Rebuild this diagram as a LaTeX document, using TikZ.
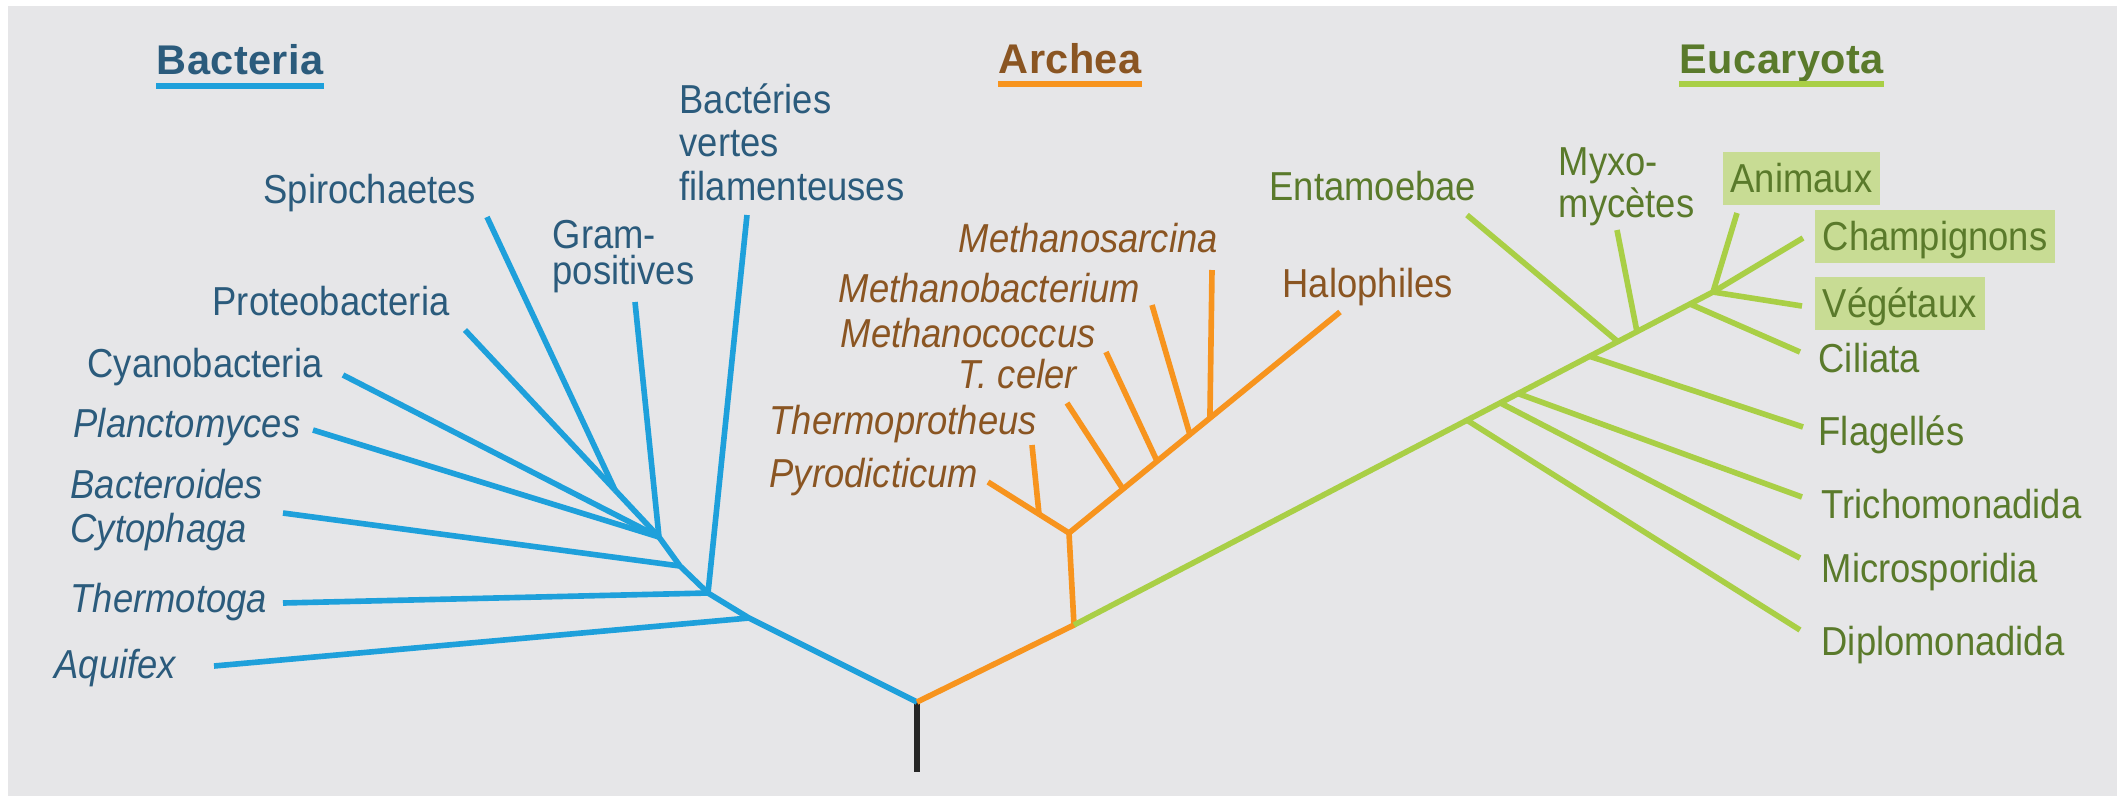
\documentclass[tikz,border=0pt]{standalone}
\usepackage{fontspec}
\setmainfont{Liberation Sans}[FakeStretch=0.9]
\newfontfamily\titlefont{Liberation Sans}[LetterSpace=1]
\usetikzlibrary{calc}
\definecolor{cbg}{HTML}{E6E6E8}
\definecolor{cblue}{HTML}{1EA0DB}
\definecolor{cbluetext}{HTML}{2B5B7C}
\definecolor{corange}{HTML}{F7941E}
\definecolor{cbrown}{HTML}{8A5522}
\definecolor{cgreen}{HTML}{A9CF46}
\definecolor{cgreentext}{HTML}{5A7A2B}
\definecolor{chl}{HTML}{C8DC94}
\definecolor{cstem}{HTML}{262626}
\tikzset{
  branch/.style={draw=#1, line width=1.6pt, line join=round},
  leaf/.style={text=#1, inner sep=0pt, align=left, font=\fontsize{11.5}{12.3}\selectfont},
  leafit/.style={leaf=#1, font=\fontsize{11.5}{12.3}\selectfont\itshape},
  tight/.style={font=\fontsize{11.5}{10.2}\selectfont},
  domain/.style={text=#1, inner sep=0pt, font=\titlefont\bfseries\fontsize{11.8}{12}\selectfont},
  hl/.style={fill=chl, inner xsep=0.08cm, inner ysep=0.05cm, text height=0.35cm, text depth=0.08cm},
}

\begin{document}
\begin{tikzpicture}[x=0.01cm, y=-0.01cm,
  underline/.style={draw=#1, line width=1.7pt}]
  \useasboundingbox (0,0) rectangle (2117,796);
  \fill[white] (0,0) rectangle (2117,796);
  \fill[cbg] (8,6) rectangle (2117,796);

  % trunk points
  \coordinate (root) at (917,702);
  \coordinate (stem) at (917,772);
  \coordinate (b1) at (749,618);
  \coordinate (b2) at (708,593);
  \coordinate (b3) at (680,566);
  \coordinate (b4) at (659,537);
  \coordinate (b5) at (615,490);
  \coordinate (a0) at (1074,625);
  \coordinate (a1) at (1069,533);
  \coordinate (e1) at (1713,292);

  % leaf tips
  \foreach \leaf/\x/\y in {aquifex/214/666, thermotoga/283/603, filam/747/215, bactero/283/513,
      plancto/313/430, cyano/343/375, gram/635/302, proteo/465/330, spiro/487/217,
      halo/1340/312, pyro/988/482, thermop/1032/445, tceler/1067/403, mcocc/1106/352,
      mbact/1152/305, msarc/1212/270,
      champ/1803/238, anim/1737/213, veget/1802/306, cil/1800/352, myxo/1617/230,
      entam/1467/215, flag/1803/427, tricho/1802/497, micro/1800/558, diplo/1800/630}
    \coordinate (\leaf-tip) at (\x,\y);

  % junctions along the archea and eucaryota trunks
  \coordinate (thermop-j) at ($(a1)!.37!(pyro-tip)$);
  \foreach \leaf/\t in {tceler/.199, mcocc/.325, mbact/.446, msarc/.52}
    \coordinate (\leaf-j) at ($(a1)!\t!(halo-tip)$);
  \foreach \leaf/\t in {diplo/.615, micro/.667, tricho/.695, flag/.807, entam/.851, myxo/.881, cil/.964}
    \coordinate (\leaf-j) at ($(a0)!\t!(e1)$);

  % branches
  \draw[branch=cstem] (root) -- (stem);
  \draw[branch=cblue] (root) -- (b1) -- (b2) -- (b3) -- (b4) -- (b5);
  \foreach \j/\leaf in {b1/aquifex, b2/thermotoga, b2/filam, b3/bactero, b4/plancto,
      b4/cyano, b4/gram, b5/proteo, b5/spiro}
    \draw[branch=cblue] (\j) -- (\leaf-tip);
  \draw[branch=corange] (root) -- (a0) -- (a1) -- (halo-tip);
  \draw[branch=corange] (a1) -- (pyro-tip);
  \draw[branch=corange] (thermop-j) -- (thermop-tip);
  \foreach \leaf in {tceler, mcocc, mbact, msarc}
    \draw[branch=corange] (\leaf-j) -- (\leaf-tip);
  \draw[branch=cgreen] (a0) -- (e1) -- (champ-tip);
  \draw[branch=cgreen] (anim-tip) -- (e1) -- (veget-tip);
  \foreach \leaf in {diplo, micro, tricho, flag, entam, myxo, cil}
    \draw[branch=cgreen] (\leaf-j) -- (\leaf-tip);

  % domain titles
  \node[domain=cbluetext, anchor=base west] (tBact) at (156,74) {Bacteria};
  \node[domain=cbrown, anchor=base west] (tArch) at (998,73) {Archea};
  \node[domain=cgreentext, anchor=base west] (tEuca) at (1679,73) {Eucaryota};
  \draw[underline=cblue] ([yshift=-0.12cm]tBact.base west) -- ([yshift=-0.12cm]tBact.base east);
  \draw[underline=corange] ([yshift=-0.11cm]tArch.base west) -- ([yshift=-0.11cm]tArch.base east);
  \draw[underline=cgreen] ([yshift=-0.11cm]tEuca.base west) -- ([yshift=-0.11cm]tEuca.base east);

  % bacteria (multi-line labels sit on their last line)
  \node[leaf=cbluetext, anchor=base west] (lFilam) at (679,200) {Bactéries\\vertes\\filamenteuses};
  \node[leaf=cbluetext, tight, anchor=base west] (lGram) at (552,284) {Gram-\\positives};
  \node[leaf=cbluetext, anchor=base west] (lSpiro) at (263,203) {Spirochaetes};
  \node[leaf=cbluetext, anchor=base west] (lProteo) at (212,315) {Proteobacteria};
  \node[leaf=cbluetext, anchor=base west] (lCyano) at (87,377) {Cyanobacteria};
  \node[leafit=cbluetext, anchor=base west] (lPlancto) at (73,437) {Planctomyces};
  \node[leafit=cbluetext, anchor=base west] (lBactero) at (70,542) {Bacteroides\\Cytophaga};
  \node[leafit=cbluetext, anchor=base west] (lThermot) at (70,612) {Thermotoga};
  \node[leafit=cbluetext, anchor=base west] (lAquifex) at (54,678) {Aquifex};

  % archea
  \node[leafit=cbrown, anchor=base west] (lMsarc) at (958,252) {Methanosarcina};
  \node[leafit=cbrown, anchor=base west] (lMbact) at (838,302) {Methanobacterium};
  \node[leafit=cbrown, anchor=base west] (lMcocc) at (840,347) {Methanococcus};
  \node[leafit=cbrown, anchor=base west] (lTceler) at (958,388) {T. celer};
  \node[leafit=cbrown, anchor=base west] (lThermop) at (769,434) {Thermoprotheus};
  \node[leafit=cbrown, anchor=base west] (lPyro) at (769,487) {Pyrodicticum};
  \node[leaf=cbrown, anchor=base west] (lHalo) at (1282,297) {Halophiles};

  % eucaryota
  \node[leaf=cgreentext, anchor=base west] (lEntam) at (1269,200) {Entamoebae};
  \node[leaf=cgreentext, tight, anchor=base west] (lMyxo) at (1558,217) {Myxo-\\mycètes};
  \node[leaf=cgreentext, hl, anchor=base west] (lAnim) at (1722,192) {Animaux};
  \node[leaf=cgreentext, hl, anchor=base west] (lChamp) at (1814,250) {Champignons};
  \node[leaf=cgreentext, hl, anchor=base west] (lVeget) at (1814,317) {Végétaux};
  \node[leaf=cgreentext, anchor=base west] (lCil) at (1818,372) {Ciliata};
  \node[leaf=cgreentext, anchor=base west] (lFlag) at (1818,445) {Flagellés};
  \node[leaf=cgreentext, anchor=base west] (lTricho) at (1821,518) {Trichomonadida};
  \node[leaf=cgreentext, anchor=base west] (lMicro) at (1821,582) {Microsporidia};
  \node[leaf=cgreentext, anchor=base west] (lDiplo) at (1821,655) {Diplomonadida};
\end{tikzpicture}
\end{document}
